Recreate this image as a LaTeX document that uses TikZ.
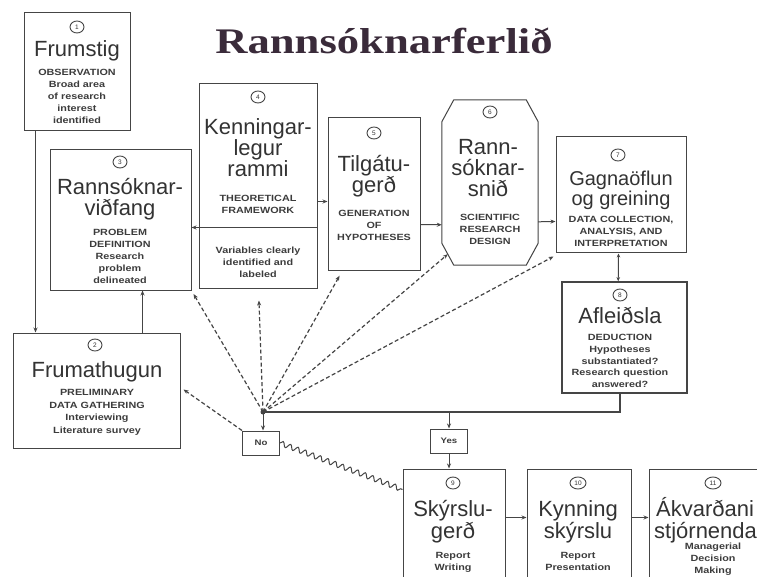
\documentclass[tikz,border=0pt]{standalone}
\usepackage{graphicx}
\usepackage{fontspec}
\setmainfont{Liberation Sans}
\newfontfamily\widesans[FakeStretch=1.2]{Liberation Sans}
\newfontfamily\titlefont{Liberation Serif}
\usetikzlibrary{calc,arrows.meta,shapes.geometric,decorations.pathmorphing}

\definecolor{ink}{HTML}{333333}
\definecolor{smink}{HTML}{3C3C3C}
\definecolor{linec}{HTML}{454545}
\definecolor{titlec}{HTML}{3A2B3A}

\tikzset{
  box/.style={draw=linec, line width=1pt, inner sep=0pt},
  big/.style={font=\fontsize{22}{22}\selectfont, text=ink, inner sep=0pt, anchor=base},
  bigb/.style={font=\fontsize{20}{20}\selectfont, text=ink, inner sep=0pt, anchor=base},
  sm/.style={font=\widesans\bfseries\fontsize{9}{12}\selectfont, text=smink, inner sep=0pt, anchor=base},
  num/.style={draw=linec, ellipse, line width=0.9pt, minimum width=14pt, minimum height=12pt, inner sep=0pt, font=\fontsize{6.5}{6.5}\selectfont, text=ink},
  arr/.style={draw=linec, line width=1pt, -{Stealth[length=5pt,width=4pt]}},
  dsh/.style={arr, line width=1.2pt, dash pattern=on 4pt off 2.5pt},
  lbl/.style={box, minimum width=37pt, minimum height=24pt, font=\widesans\bfseries\fontsize{8}{8}\selectfont, text=smink}
}

\newcommand{\txtlines}[6]{%
  \foreach \mytxt [count=\i] in {#6} {\node[#5] (#1-\i) at (#2,{#3+(\i-1)*#4}) {\mytxt};}}

\begin{document}
\begin{tikzpicture}[x=1pt,y=-1pt]
\useasboundingbox (0,0) rectangle (757,577);
\fill[white] (0,0) rectangle (757,577);
\clip (0,0) rectangle (757,577);

% title
\node[font=\titlefont\bfseries\fontsize{36}{36}\selectfont, text=titlec, anchor=base, inner sep=0pt] (title) at (384,54) {\scalebox{1.24}[1]{Rannsóknarferlið}};

% boxes
\node[box, minimum width=106pt, minimum height=118pt] (b1) at (77,72) {};
\node[box, minimum width=167pt, minimum height=115pt] (b2) at (96.5,390.5) {};
\node[box, minimum width=141pt, minimum height=140pt] (b3) at (120.5,220) {};
\node[box, minimum width=118pt, minimum height=204pt] (b4) at (258,186) {};
\node[box, minimum width=92pt, minimum height=152pt] (b5) at (374,194) {};
\node[inner sep=0pt, minimum width=96pt, minimum height=165pt] (b6) at (490,182.5) {};
\draw[linec, line width=1pt] ($(b6.north west)+(12,0)$) -- ($(b6.north east)+(-12,0)$) -- ($(b6.north east)+(0,22)$) -- ($(b6.south east)+(0,-22)$) -- ($(b6.south east)+(-12,0)$) -- ($(b6.south west)+(12,0)$) -- ($(b6.south west)+(0,-22)$) -- ($(b6.north west)+(0,22)$) -- cycle;
\node[box, minimum width=130pt, minimum height=116pt] (b7) at (621,195) {};
\node[box, line width=1.6pt, minimum width=125pt, minimum height=111pt] (b8) at (624.5,337.5) {};
\node[box, minimum width=102pt, minimum height=131pt] (b9) at (454,534.5) {};
\node[box, minimum width=104pt, minimum height=131pt] (b10) at (579,534.5) {};
\node[box, minimum width=131pt, minimum height=131pt] (b11) at (714.5,534.5) {};

% box 1
\node[num] (n1) at (77,27) {1};
\node[big] (t1) at (77,57) {Frumstig};
\txtlines{s1}{77}{75.5}{12}{sm}{OBSERVATION, Broad area, of research, interest, identified}
% box 2
\node[num] (n2) at (95,345) {2};
\node[big] (t2) at (97,377) {Frumathugun};
\txtlines{s2}{97}{395.5}{12.5}{sm}{PRELIMINARY, DATA GATHERING, Interviewing, Literature survey}
% box 3
\node[num] (n3) at (120,162) {3};
\txtlines{t3}{120}{195}{21}{big}{Rannsóknar-, viðfang}
\txtlines{s3}{120}{235.5}{12}{sm}{PROBLEM, DEFINITION, Research, problem, delineated}
% box 4
\node[num] (n4) at (258,97) {4};
\txtlines{t4}{258}{135}{21}{big}{Kenningar-, legur, rammi}
\txtlines{s4}{258}{202}{12}{sm}{THEORETICAL, FRAMEWORK}
\txtlines{v4}{258}{253.5}{12}{sm}{Variables clearly, identified and, labeled}
% box 5
\node[num] (n5) at (374,133) {5};
\txtlines{t5}{374}{172}{21}{big}{Tilgátu-, gerð}
\txtlines{s5}{374}{216.5}{12}{sm}{GENERATION, OF, HYPOTHESES}
% box 6
\node[num] (n6) at (490,112) {6};
\txtlines{t6}{488}{155}{21}{big}{Rann-, sóknar-, snið}
\txtlines{s6}{490}{220.5}{12}{sm}{SCIENTIFIC, RESEARCH, DESIGN}
% box 7
\node[num] (n7) at (618,155) {7};
\txtlines{t7}{621}{186}{19.5}{bigb}{Gagnaöflun, og greining}
\txtlines{s7}{621}{222.5}{12}{sm}{{DATA COLLECTION,}, {ANALYSIS, AND}, INTERPRETATION}
% box 8
\node[num] (n8) at (620,295) {8};
\node[big] (t8) at (620,323) {Afleiðsla};
\txtlines{s8}{620}{340.5}{11.8}{sm}{DEDUCTION, Hypotheses, substantiated?, Research question, answered?}
% box 9
\node[num] (n9) at (453,483) {9};
\txtlines{t9}{453}{516}{22}{big}{Skýrslu-, gerð}
\txtlines{s9}{453}{558}{12}{sm}{Report, Writing}
% box 10
\node[num, minimum width=16pt] (n10) at (578,483) {10};
\txtlines{t10}{578}{516}{22}{big}{Kynning, skýrslu}
\txtlines{s10}{578}{558}{12}{sm}{Report, Presentation}
% box 11
\node[num, minimum width=16pt] (n11) at (713,483) {11};
\node[big, anchor=base west] (t11a) at (656,516) {Ákvarðani};
\node[big, anchor=base west] (t11b) at (654,538) {stjórnenda};
\txtlines{s11}{713}{549}{12}{sm}{Managerial, Decision, Making}

% labels and hub
\node[circle, fill=linec, inner sep=0pt, minimum size=5pt] (hub) at (263,412) {};
\node[lbl] (no) at (261,443) {No};
\node[lbl] (yes) at (449,441) {Yes};

% solid connectors
\draw[arr] ($(b1.south west)+(12,0)$) -- ($(b2.north west)+(23,0)$);
\draw[arr] ($(b2.north west)+(130,0)$) -- ($(b3.south west)+(93,0)$);
\draw[arr] ($(b4.north east)+(0,144)$) -- ($(b3.north east)+(0,78)$);
\draw[arr] ($(b4.north east)+(0,118)$) -- ($(b5.north west)+(0,84)$);
\draw[arr] ($(b5.north east)+(0,107)$) -- ($(b6.north west)+(0,125)$);
\draw[arr] ($(b6.north east)+(0,122)$) -- ($(b7.north west)+(0,85)$);
\draw[linec, line width=1pt, {Stealth[length=4pt,width=3.5pt]}-{Stealth[length=4pt,width=3.5pt]}] ($(b7.south west)+(63,0)$) -- ($(b8.north west)+(57,0)$);
\draw[linec, line width=1.6pt] ($(b8.south west)+(59,0)$) |- (hub.center);
\draw[arr] (hub.center) -- (hub |- no.north);
\draw[arr] (yes.north |- hub) -- (yes.north);
\draw[arr] (yes.south) -- (yes.south |- b9.north);
\draw[arr] ($(b9.north east)+(0,49)$) -- ($(b10.north west)+(0,49)$);
\draw[arr] ($(b10.north east)+(0,49)$) -- ($(b11.north west)+(0,49)$);
\draw[linec, line width=1pt, decorate, decoration={snake, amplitude=2.5pt, segment length=8pt}] (no.east) -- ($(b9.north west)+(0,21)$);

% dashed connectors
\draw[dsh] (no.north west) -- ($(b2.north east)+(3,57)$);
\draw[dsh, shorten >=4pt] (hub.center) -- (b3.south east);
\draw[dsh, shorten >=12pt] (hub.center) -- ($(b4.south west)+(60,0)$);
\draw[dsh, shorten >=6pt] (hub.center) -- ($(b5.south west)+(15,0)$);
\draw[dsh] (hub.center) -- ($(b6.south west)+(6,-11)$);
\draw[dsh] (hub.center) -- ($(b7.south west)+(-2,3)$);
\end{tikzpicture}
\end{document}
